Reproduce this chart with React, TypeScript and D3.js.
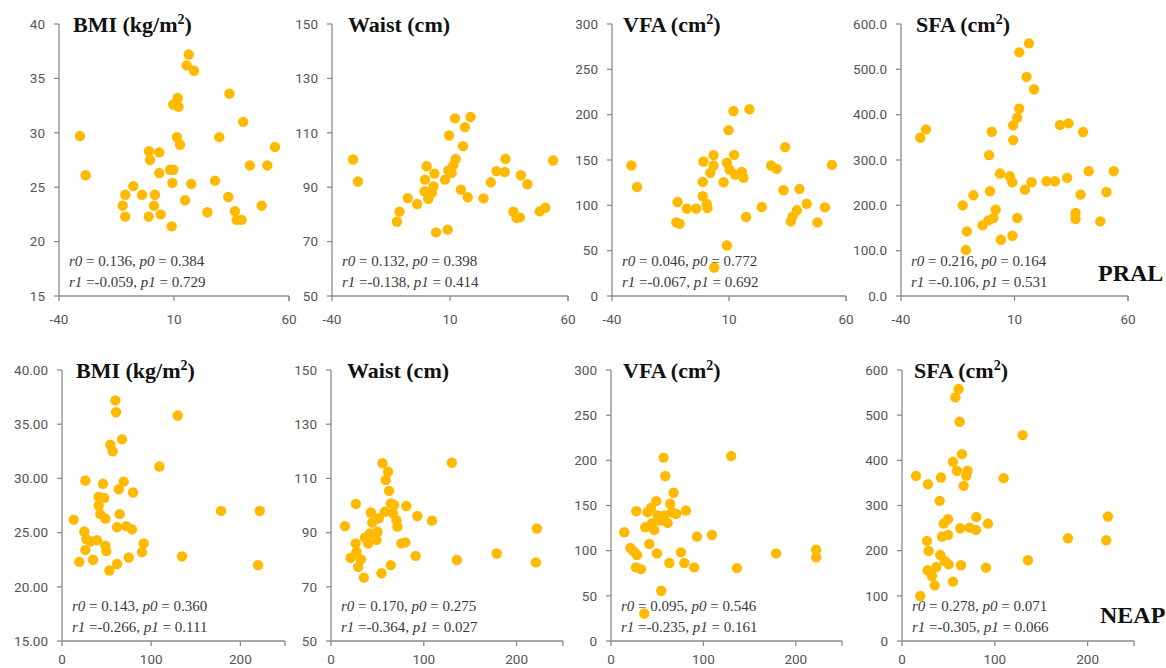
import React from 'react';
import * as d3 from 'd3';

// PRAL (x) vs outcome (y)
const pralBmi: [number, number][] = [
  [-30.9, 29.7], [-28.4, 26.1], [-7.7, 25.1], [-11.2, 24.3], [-12.3, 23.3], [-11.2, 22.3],
  [-3.9, 24.3], [-0.9, 28.3], [-0.4, 27.5], [3.6, 28.2], [-1.0, 22.3], [1.7, 24.3],
  [1.3, 23.3], [4.2, 22.5], [3.6, 26.3], [9.0, 21.4], [8.3, 26.6], [9.7, 26.6],
  [9.3, 25.4], [9.7, 32.6], [11.6, 33.2], [12.0, 32.4], [11.3, 29.6], [12.6, 28.9],
  [14.8, 23.8], [16.4, 37.2], [15.5, 36.2], [18.7, 35.7], [17.5, 25.3], [24.5, 22.7],
  [27.8, 25.6], [29.7, 29.6], [34.1, 33.6], [33.6, 24.1], [36.5, 22.8], [37.2, 22.0],
  [39.4, 22.0], [40.1, 31.0], [43.0, 27.0], [48.1, 23.3], [50.6, 27.0], [53.9, 28.7],
];
const pralWaist: [number, number][] = [
  [-31.1, 100.2], [-29.0, 92.1], [-12.5, 77.3], [-11.4, 81.0], [-7.9, 86.0], [-3.9, 83.8],
  [0.1, 97.7], [-0.6, 92.8], [-0.8, 88.5], [0.8, 85.7], [2.3, 87.9], [3.4, 95.0],
  [3.0, 90.3], [4.1, 73.4], [9.0, 74.4], [7.9, 92.8], [9.3, 96.2], [9.6, 109.0],
  [10.7, 95.3], [11.4, 98.1], [12.4, 100.4], [12.1, 115.3], [14.6, 89.1], [15.5, 105.1],
  [16.3, 112.1], [17.5, 86.3], [18.7, 115.8], [24.2, 85.9], [27.3, 91.8], [29.7, 95.9],
  [33.2, 95.6], [33.5, 100.4], [36.8, 81.0], [38.2, 78.7], [39.6, 78.9], [40.0, 94.4],
  [42.8, 91.1], [48.0, 81.1], [50.4, 82.5], [53.7, 99.8],
];
const pralVfa: [number, number][] = [
  [-31.7, 143.9], [-29.3, 120.3], [-12.0, 103.7], [-12.5, 81.2], [-11.1, 79.7], [-8.0, 96.3],
  [-4.0, 96.3], [-1.2, 110.0], [-0.9, 148.3], [-1.2, 125.8], [0.5, 101.5], [0.8, 97.0],
  [2.0, 135.8], [3.4, 143.9], [3.4, 155.4], [3.7, 31.4], [7.7, 125.5], [9.1, 55.7],
  [9.1, 146.9], [9.8, 183.0], [10.2, 139.5], [11.9, 204.1], [12.2, 155.7], [12.6, 134.0],
  [15.5, 136.9], [16.2, 130.3], [17.3, 87.1], [18.7, 206.0], [24.0, 98.2], [28.0, 143.9],
  [30.4, 140.2], [33.3, 116.6], [34.0, 164.2], [36.4, 82.3], [37.2, 87.8], [39.0, 94.5],
  [40.1, 118.1], [43.2, 101.8], [47.8, 81.2], [51.0, 97.8], [54.0, 144.6],
];
const pralSfa: [number, number][] = [
  [-31.5, 349.1], [-29.0, 367.5], [-12.8, 200.0], [-11.0, 142.4], [-11.4, 101.8], [-8.1, 222.1],
  [-4.1, 155.7], [-1.2, 310.7], [-0.8, 231.0], [0.0, 362.4], [-1.5, 166.8], [0.7, 172.0],
  [1.7, 190.4], [3.6, 270.1], [4.0, 124.0], [7.9, 264.2], [9.0, 251.0], [9.1, 132.8],
  [9.4, 343.9], [9.4, 376.4], [11.2, 393.3], [12.1, 413.3], [11.2, 172.0], [12.1, 537.3],
  [15.3, 483.4], [16.4, 557.2], [14.6, 234.7], [17.5, 251.0], [18.6, 456.1], [24.1, 253.1],
  [27.8, 253.1], [30.0, 377.1], [33.8, 380.8], [33.2, 260.5], [36.9, 183.0], [36.9, 169.7],
  [39.1, 223.6], [40.2, 361.6], [42.7, 275.3], [47.8, 164.6], [50.5, 229.5], [53.7, 275.3],
];

// NEAP (x) vs outcome (y)
const neapBmi: [number, number][] = [
  [13.1, 26.2], [19.4, 22.3], [26.2, 29.8], [25.0, 25.1], [27.3, 24.4], [26.2, 23.4],
  [34.8, 22.5], [31.8, 24.2], [39.3, 24.3], [41.1, 28.3], [41.1, 27.5], [43.0, 26.7],
  [46.0, 29.5], [47.5, 28.2], [48.6, 26.3], [48.6, 23.8], [49.7, 23.3], [53.1, 21.5],
  [54.2, 33.1], [56.8, 32.5], [59.8, 37.2], [60.6, 36.1], [61.7, 22.1], [61.7, 25.5],
  [63.6, 29.0], [64.7, 26.7], [67.3, 33.6], [69.2, 29.7], [72.1, 25.6], [74.8, 22.7],
  [79.6, 28.7], [78.5, 25.3], [89.7, 23.2], [91.6, 24.0], [109.2, 31.1], [129.7, 35.8],
  [134.6, 22.8], [178.3, 27.0], [221.7, 27.0], [219.8, 22.0],
];
const neapWaist: [number, number][] = [
  [15.0, 92.4], [21.1, 80.7], [26.8, 100.6], [26.5, 86.0], [27.5, 83.0], [29.3, 77.4],
  [32.2, 80.1], [35.4, 73.4], [36.5, 88.1], [40.1, 86.0], [41.9, 89.7], [42.9, 97.4],
  [44.4, 93.7], [49.0, 87.3], [50.1, 90.3], [51.5, 95.3], [54.4, 75.0], [55.5, 115.6],
  [58.0, 97.7], [59.0, 109.4], [61.5, 112.5], [62.6, 105.4], [64.4, 78.0], [64.4, 100.8],
  [66.9, 97.1], [70.5, 94.6], [71.6, 92.2], [68.0, 100.2], [75.8, 86.0], [80.1, 86.4],
  [81.2, 99.8], [91.2, 81.4], [93.0, 96.1], [108.8, 94.4], [130.2, 115.8], [135.6, 79.9],
  [178.5, 82.3], [221.8, 91.5], [220.8, 79.0],
];
const neapVfa: [number, number][] = [
  [14.4, 120.4], [20.9, 103.0], [24.5, 99.3], [27.4, 143.7], [28.1, 95.2], [27.0, 81.5],
  [32.4, 79.6], [36.0, 30.4], [37.1, 125.9], [41.4, 107.4], [43.2, 147.4], [44.3, 130.4],
  [46.8, 123.0], [49.0, 154.8], [50.5, 138.9], [49.7, 97.0], [54.4, 55.6], [56.9, 203.0],
  [58.7, 182.6], [57.7, 138.9], [61.3, 130.7], [63.1, 86.3], [64.1, 151.9], [65.9, 142.6],
  [67.7, 164.1], [70.6, 140.7], [75.7, 98.1], [79.3, 86.3], [81.1, 144.4], [90.1, 81.5],
  [93.0, 115.6], [109.2, 117.4], [130.1, 204.8], [136.2, 80.7], [178.7, 97.0], [222.0, 101.1],
  [222.0, 92.6], [39.6, 142.6], [53.3, 133.3],
];
const neapSfa: [number, number][] = [
  [15.1, 365.7], [19.7, 99.6], [26.9, 221.6], [28.0, 347.2], [28.7, 199.4], [27.6, 156.5],
  [32.3, 144.0], [35.2, 123.3], [37.0, 163.9], [40.6, 310.3], [42.0, 362.0], [41.3, 190.5],
  [43.1, 231.2], [44.9, 260.0], [46.0, 177.2], [49.6, 269.6], [49.6, 234.9], [50.3, 169.8],
  [54.9, 131.4], [54.9, 396.7], [57.5, 539.4], [61.0, 557.9], [62.1, 485.4], [59.2, 376.8],
  [62.8, 249.7], [63.6, 167.6], [64.6, 413.7], [66.4, 343.5], [69.3, 365.7], [70.7, 376.8],
  [72.9, 251.1], [80.1, 274.8], [79.7, 245.9], [90.5, 162.4], [92.6, 260.0], [109.5, 360.5],
  [130.0, 455.9], [135.7, 178.7], [178.8, 227.5], [220.1, 223.1], [221.9, 275.5],
];

const titles = [
  ['BMI (kg/m', '2', ')'],
  ['Waist (cm)', '', ''],
  ['VFA (cm', '2', ')'],
  ['SFA (cm', '2', ')'],
];
const pralStats = [
  ['0.136', '0.384', '-0.059', '0.729'],
  ['0.132', '0.398', '-0.138', '0.414'],
  ['0.046', '0.772', '-0.067', '0.692'],
  ['0.216', '0.164', '-0.106', '0.531'],
];
const neapStats = [
  ['0.143', '0.360', '-0.266', '0.111'],
  ['0.170', '0.275', '-0.364', '0.027'],
  ['0.095', '0.546', '-0.235', '0.161'],
  ['0.278', '0.071', '-0.305', '0.066'],
];
const yDomains: [number, number, number][] = [
  [15, 40, 5],
  [50, 150, 20],
  [0, 300, 50],
  [0, 600, 100],
];
const pralTicks = [-40, 10, 60];
const neapTicks = [0, 100, 200];
const pralYFormats = ['d', 'd', 'd', '.1f'];
const neapYFormats = ['.2f', 'd', 'd', 'd'];

const W = 1166;
const H = 668;
const dotColor = '#FFBA00';
const axisColor = '#8c8c8c';

type PanelProps = {
  data: [number, number][];
  xDomain: [number, number];
  xTicks: number[];
  yIdx: number;
  yFmt: string;
  left: number;
  right: number;
  top: number;
  bottom: number;
  stats: string[];
  titleDx: number;
  labelDy: number;
};

function Panel({ data, xDomain, xTicks, yIdx, yFmt, left, right, top, bottom, stats, titleDx, labelDy }: PanelProps) {
  const [y0, y1, step] = yDomains[yIdx];
  const x = d3.scaleLinear().domain(xDomain).range([left, right]);
  const y = d3.scaleLinear().domain([y0, y1]).range([bottom, top]);
  const yTicks = d3.range(y0, y1 + step / 2, step);
  const fmt = d3.format(yFmt);
  const t = titles[yIdx];
  const ann = { fontFamily: '"Liberation Serif", serif', fontSize: 15, fill: '#3a3a3a' };
  return (
    <g>
      <line x1={left} x2={left} y1={top} y2={bottom} stroke={axisColor} strokeWidth={1.3} />
      <line x1={left} x2={right} y1={bottom} y2={bottom} stroke={axisColor} strokeWidth={1.3} />
      {yTicks.map((v) => (
        <g key={'y' + v}>
          <line x1={left - 5} x2={left} y1={y(v)} y2={y(v)} stroke={axisColor} strokeWidth={1.3} />
          <text
            x={left - 14}
            y={y(v)}
            dy="0.35em"
            textAnchor="end"
            fontFamily="Roboto, sans-serif"
            fontSize={13.5}
            fill="#555"
          >
            {fmt(v)}
          </text>
        </g>
      ))}
      {xTicks.map((v) => (
        <g key={'x' + v}>
          <line x1={x(v)} x2={x(v)} y1={bottom} y2={bottom + 5} stroke={axisColor} strokeWidth={1.3} />
          <text
            x={x(v)}
            y={bottom + labelDy}
            textAnchor="middle"
            fontFamily="Roboto, sans-serif"
            fontSize={13.5}
            fill="#555"
          >
            {v}
          </text>
        </g>
      ))}
      <line x1={right} x2={right} y1={bottom} y2={bottom + 5} stroke={axisColor} strokeWidth={1.3} />
      {data.map((d, i) => (
        <circle key={i} cx={x(d[0])} cy={y(d[1])} r={5.2} fill={dotColor} />
      ))}
      <text
        x={left + titleDx}
        y={top + 8}
        fontFamily='"Liberation Serif", serif'
        fontWeight="bold"
        fontSize={22}
        fill="#111"
      >
        {t[0]}
        {t[1] && (
          <tspan dy={-8} fontSize={14}>
            {t[1]}
          </tspan>
        )}
        {t[2] && <tspan dy={8}>{t[2]}</tspan>}
      </text>
      <text x={left + 10} y={bottom - 30} {...ann}>
        <tspan fontStyle="italic">r0</tspan>
        {' = ' + stats[0] + ', '}
        <tspan fontStyle="italic">p0</tspan>
        {' = ' + stats[1]}
      </text>
      <text x={left + 10} y={bottom - 9} {...ann}>
        <tspan fontStyle="italic">r1</tspan>
        {' =' + stats[2] + ', '}
        <tspan fontStyle="italic">p1</tspan>
        {' = ' + stats[3]}
      </text>
    </g>
  );
}

const pralData = [pralBmi, pralWaist, pralVfa, pralSfa];
const neapData = [neapBmi, neapWaist, neapVfa, neapSfa];

// plot frames: [left, right]
const topCols: [number, number][] = [[59, 289], [332, 568], [612, 846], [901, 1128]];
const botCols: [number, number][] = [[62, 285], [331, 563], [611, 842], [902, 1134]];
const topDx = [14, 16, 11, 15];
const botDx = [14, 16, 12, 12];

export default function App() {
  return (
    <svg
      width={W}
      height={H}
      style={{ position: 'absolute', left: 0, top: 0, background: '#fff', display: 'block' }}
    >
      <rect width={W} height={H} fill="#fff" />
      {pralData.map((d, i) => (
        <Panel
          key={'p' + i}
          data={d}
          xDomain={[-40, 60]}
          xTicks={pralTicks}
          yIdx={i}
          yFmt={pralYFormats[i]}
          left={topCols[i][0]}
          right={topCols[i][1]}
          top={24}
          bottom={296}
          stats={pralStats[i]}
          titleDx={topDx[i]}
          labelDy={28}
        />
      ))}
      {neapData.map((d, i) => (
        <Panel
          key={'n' + i}
          data={d}
          xDomain={[0, 250]}
          xTicks={neapTicks}
          yIdx={i}
          yFmt={neapYFormats[i]}
          left={botCols[i][0]}
          right={botCols[i][1]}
          top={370}
          bottom={641}
          stats={neapStats[i]}
          titleDx={botDx[i]}
          labelDy={23}
        />
      ))}
      <text x={1098} y={281} fontFamily='"Liberation Serif", serif' fontWeight="bold" fontSize={24} fill="#111">
        PRAL
      </text>
      <text x={1100} y={623} fontFamily='"Liberation Serif", serif' fontWeight="bold" fontSize={24} fill="#111">
        NEAP
      </text>
    </svg>
  );
}
